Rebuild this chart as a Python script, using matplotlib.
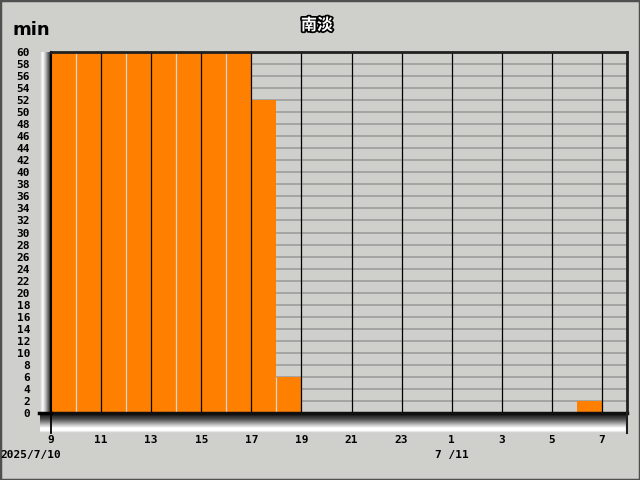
import numpy as np
import matplotlib
matplotlib.use("Agg")
import matplotlib.pyplot as plt
from matplotlib import patheffects as pe
from matplotlib.lines import Line2D
from matplotlib.patches import Rectangle

# ---- data ----
hours = list(range(9, 32))            # bar start hour (9 .. 31 == 7 next day)
values = [60, 60, 60, 60, 60, 60, 60, 60, 52, 6,
          0, 0, 0, 0, 0, 0, 0, 0, 0, 0, 0, 2, 0]
xtick_pos = list(range(9, 32, 2))
xtick_labels = ["9", "11", "13", "15", "17", "19", "21", "23", "1", "3", "5", "7"]
ytick_pos = list(range(0, 61, 2))
title = "南淡"
unit = "min"
date1 = "2025/7/10"
date2 = "7 /11"

BG = "#cfd0cc"
ORANGE = "#ff8000"
W, H = 640, 480

def fx(px):
    return px / W

def fy(py):
    return 1 - py / H

fig = plt.figure(figsize=(6.4, 4.8), dpi=100, facecolor=BG)

# figure frame
fig.patches.append(Rectangle((0, 0), 1, 1, transform=fig.transFigure,
                             fill=False, edgecolor="#505050", lw=2.5))

L, R, T, B = 51, 627, 52, 413

# left wall gradient: light on the left, dark next to the axis
n = 60
t = np.linspace(0, 1, n)
wall_lum = np.interp(t, [0, 0.25, 0.5, 0.8, 1.0], [0.80, 1.0, 0.75, 0.35, 0.1])
wall_img = np.repeat(wall_lum[None, :, None], 3, axis=2)
wall = fig.add_axes([fx(40), fy(432), fx(L - 40), fy(T) - fy(432)])
wall.imshow(wall_img, aspect="auto", extent=[0, 1, 0, 1], origin="upper")
wall.axis("off")

# floor gradient: dark at the top, white near the bottom
fl_lum = np.interp(t, [0, 0.3, 0.75, 0.88, 1.0], [0.05, 0.3, 1.0, 1.0, 0.8])
floor_img = np.repeat(fl_lum[:, None, None], 3, axis=2)
floor = fig.add_axes([fx(40), fy(433), fx(R - 40), fy(B) - fy(433)])
floor.imshow(floor_img, aspect="auto", extent=[0, 1, 0, 1], origin="upper")
floor.axis("off")

ax = fig.add_axes([fx(L), fy(B), fx(R) - fx(L), fy(T) - fy(B)])
ax.set_facecolor(BG)
ax.set_xlim(9, 32)
ax.set_ylim(0, 60)

# horizontal grid (groove look)
for v in ytick_pos:
    ax.axhline(v, color="#999999", lw=1.1, zorder=1)

ax.bar(hours, values, width=1.0, align="edge", color=ORANGE,
       edgecolor="none", zorder=2)

# light separators between adjacent bars at even hours
for i in range(1, len(hours)):
    h = hours[i]
    top = min(values[i - 1], values[i])
    if h % 2 == 0 and top > 0:
        ax.vlines(h, 0, top, color="#d8d8d8", lw=0.9, zorder=3)

# black vertical grid at odd hours
for xp in xtick_pos[1:]:
    ax.axvline(xp, color="black", lw=0.9, zorder=4)

for s in ["top", "right"]:
    ax.spines[s].set_color("#202020")
    ax.spines[s].set_linewidth(2)
ax.spines["left"].set_color("black")
ax.spines["left"].set_linewidth(1.5)
ax.spines["bottom"].set_color("#101010")
ax.spines["bottom"].set_linewidth(2.5)
for s in ax.spines.values():
    s.set_zorder(5)

ax.set_yticks(ytick_pos)
ax.set_yticklabels([str(v) for v in ytick_pos])
ax.set_xticks(xtick_pos)
ax.set_xticklabels(xtick_labels)
ax.tick_params(axis="y", length=0, pad=15)
ax.tick_params(axis="x", length=0, pad=16)
for lab in ax.get_yticklabels() + ax.get_xticklabels():
    lab.set_fontfamily("DejaVu Sans Mono")
    lab.set_fontweight("bold")
    lab.set_fontsize(8)

# axis extensions (left axis down through floor, baseline left through wall)
fig.lines.append(Line2D([fx(L), fx(L)], [fy(B), fy(433)], transform=fig.transFigure,
                        color="black", lw=1.3))
fig.lines.append(Line2D([fx(39), fx(L)], [fy(B), fy(B)], transform=fig.transFigure,
                        color="black", lw=2.5))
fig.lines.append(Line2D([fx(R), fx(R)], [fy(B), fy(433)], transform=fig.transFigure,
                        color="#202020", lw=1.5))

fig.text(fx(12), fy(30), unit, fontsize=13, fontweight="bold",
         family="DejaVu Sans", va="center", ha="left")
fig.text(fx(317), fy(25), title, fontsize=11.5, fontweight="bold", color="white",
         family=["Noto Sans CJK JP", "DejaVu Sans"], ha="center", va="center",
         path_effects=[pe.withStroke(linewidth=2.5, foreground="black")])
fig.text(fx(0), fy(455), date1, fontsize=8, fontweight="bold",
         family="DejaVu Sans Mono", ha="left", va="center")
fig.text(fx(452), fy(455), date2, fontsize=8, fontweight="bold",
         family="DejaVu Sans Mono", ha="center", va="center")

fig.savefig("out.png", dpi=100, facecolor=BG)
